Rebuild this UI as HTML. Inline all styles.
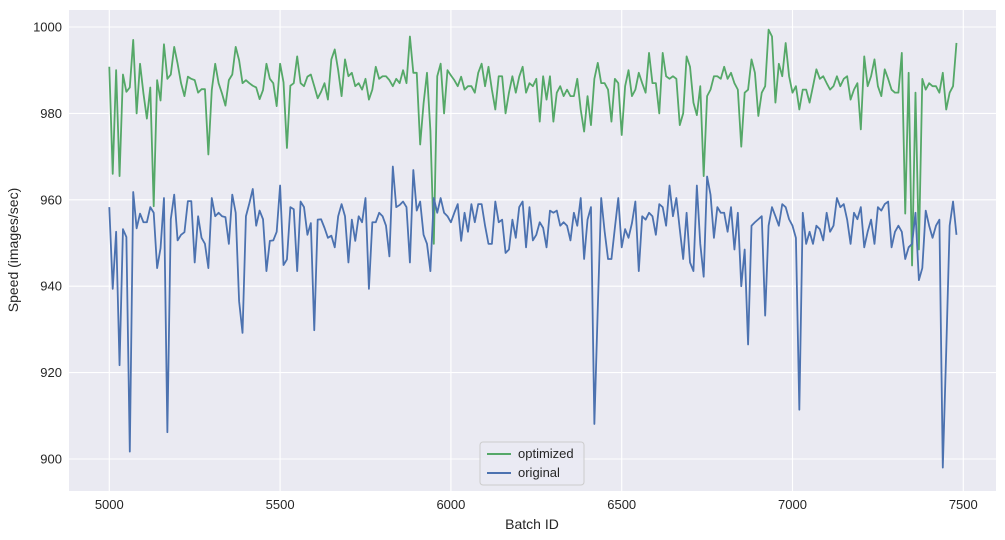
<!DOCTYPE html>
<html><head><meta charset="utf-8">
<style>
html,body{margin:0;padding:0;background:#fff;}
svg{display:block;font-family:"Liberation Sans","DejaVu Sans",sans-serif;}
</style></head>
<body>
<svg id="chart" width="1005" height="540" viewBox="0 0 1005 540" xmlns="http://www.w3.org/2000/svg">
  <rect x="69" y="10" width="927" height="481" fill="#EAEAF2"/>
  <g id="grid"></g>
  <g id="series"></g>
  <g id="xticks" font-size="13" fill="#262626" text-anchor="middle"></g>
  <g id="yticks" font-size="13" fill="#262626" text-anchor="end"></g>
  <text x="532" y="529" font-size="14" fill="#262626" text-anchor="middle">Batch ID</text>
  <text transform="translate(18,250) rotate(-90)" font-size="14" fill="#262626" text-anchor="middle">Speed (images/sec)</text>
  <g>
    <rect x="480" y="442" width="104" height="43" rx="3" fill="#EAEAF2" fill-opacity="0.8" stroke="#cccccc"/>
    <line x1="487" y1="454" x2="511" y2="454" stroke="#55A868" stroke-width="2"/>
    <text x="518" y="458" font-size="13" fill="#262626">optimized</text>
    <line x1="487" y1="473" x2="511" y2="473" stroke="#4C72B0" stroke-width="2"/>
    <text x="518" y="477" font-size="13" fill="#262626">original</text>
  </g>
</svg>
<script>
const batchStart = 5000;
const batchStep = 10;
const xTicks = [5000, 5500, 6000, 6500, 7000, 7500];
const yTicks = [900, 920, 940, 960, 980, 1000];
const optimized = [
990.8,966,990,965.5,989,985,986,997,980,991.5,984.6,978.8,986,958.5,987.7,983,996,988,989,995.4,991.5,987,984,988.5,988,987.7,984.8,985.6,985.6,970.5,985.4,991.5,987,984.6,981.8,987.7,989,995.4,992.3,987,987.7,987,986.4,986,983.3,985.4,991.5,988,987,981.7,991.5,987.2,972,986.4,987,993.2,987,986.3,988.5,989,986.3,983.5,
985,987,983.2,992.5,994.8,990,984,992.5,988.6,989.4,986.3,987,985.5,988,983.2,985.5,990.8,988,988.6,988.6,987.7,986.3,988,987,990,987,997.8,989.4,989.4,972.8,982.3,989.4,976,949.8,988.6,991.5,980,990,988.8,987.7,986.3,988.5,985.5,986.3,986.3,984.8,989.4,991.5,986.3,990.8,985.5,980.9,988.6,988.6,980,984.8,988.6,984.8,988.5,990.8,984.8,987,
986.3,988,978.1,988.6,983.2,988.6,978.1,984.8,986.3,984,985.5,984,984,988,980.9,975.8,984,977.3,988,991.7,987,987,985.5,978.1,988,987,975,986.3,990,984,985.5,989.4,987,984.8,994,987,987,980,994,988.6,988,988.6,988,977.3,980,993.2,990.8,982.5,979.6,986.3,965.5,984,985.5,988.6,988.6,988,990.8,988,989.4,987,985.5,972.3,
984.8,985.5,992.5,989.4,979.4,984.8,986.3,999.4,997.8,982.5,991.5,988.6,996.3,988.6,984.8,986.3,980.9,985.5,985.5,982.5,986.3,990.2,988,988.6,987,985.5,986.3,988.6,986.3,988,988.6,983.2,985.5,987,976.3,993.2,986.3,988.6,992.5,986.3,984,990.2,988,985.5,984.8,984.8,994,956.8,989.4,944.8,984.8,948.5,988,985.5,987,986.3,986.3,984.8,989.4,980.9,984.8,986.3,996.3
];
const original = [
958.3,939.4,952.6,921.7,953.2,951.4,901.7,961.8,953.4,956.8,954.8,954.8,958.3,957,944.2,948.8,960.4,906.2,955.5,961.2,950.6,951.9,952.5,959.7,959.7,945.5,956.2,951.2,949.8,944.2,960.4,956.2,957,956.2,956,949.8,961.2,957,936.5,929.2,956.2,959.2,962.5,954,957.5,955.5,943.5,950.5,950.6,952.6,963.3,944.9,946.2,958.3,957.8,943.5,959.6,958.3,951.9,954.6,929.8,955.4,
955.5,953.5,951.2,951.7,949,956.2,959,956.2,945.5,955.4,950.5,956.2,954.8,960.4,939.4,954.8,954.8,957,956.2,954,946.9,967.7,958.3,958.8,959.6,958.3,945.5,966.9,957.5,959.6,951.9,949.8,943.5,960.4,957,960.4,957,956.2,954.8,957,959,950.5,957,952.6,959,954.8,959,959,954,949.8,949.8,959.6,954.8,955.4,947.7,948.5,955.4,951.2,958.3,959.6,949,958.3,
950.6,951.9,954.8,953.5,949,957.5,957,957.5,954,954.8,954,950.6,957,954,960.4,946.3,955.4,958.3,908.1,935,960.4,952.7,946.3,946.3,953.5,960.4,949,953.2,951.2,954.6,959.6,943.5,956.2,955.4,957,956.2,951.9,959,958.3,954,963.3,956.2,960.4,953.2,946.3,957,945.5,943.5,963.3,949.8,942.2,965.4,961.2,951.2,958.3,957,957,952.6,958.3,948.5,957,940,
948.5,926.5,954,954.8,955.5,956.2,933.2,954,958.3,956.2,954,959,958.3,955.5,954,951.2,911.4,957,949.8,952.6,949.8,954,953.2,950.6,957,952.6,954,960.4,958.3,959,955.4,949.8,957,955.5,958.3,949,952.6,955.4,949.8,958.3,957.5,959,959.6,949,952.6,954,952.6,946.3,949,949.8,957,941.4,944.2,957.5,954,951.2,954,955.4,898,925,954,959.6,951.9
];

const NS = 'http://www.w3.org/2000/svg';
const X0 = 109.3, XS = 0.3416;
const Y0 = 27, YS = 4.32;
function xScale(v){ return X0 + (v - 5000) * XS; }
function yScale(v){ return Y0 + (1000 - v) * YS; }

const grid = document.getElementById('grid');
const xt = document.getElementById('xticks');
const yt = document.getElementById('yticks');
xTicks.forEach(function(t){
  const x = xScale(t);
  const l = document.createElementNS(NS,'line');
  l.setAttribute('x1',x); l.setAttribute('x2',x); l.setAttribute('y1',10); l.setAttribute('y2',491);
  l.setAttribute('stroke','#fff'); l.setAttribute('stroke-width','1.1');
  
  
  grid.appendChild(l);
  const tx = document.createElementNS(NS,'text');
  tx.setAttribute('x',x); tx.setAttribute('y',509); tx.textContent = t;
  
  
  xt.appendChild(tx);
});
yTicks.forEach(function(t){
  const y = yScale(t);
  const l = document.createElementNS(NS,'line');
  l.setAttribute('x1',69); l.setAttribute('x2',996); l.setAttribute('y1',y); l.setAttribute('y2',y);
  l.setAttribute('stroke','#fff'); l.setAttribute('stroke-width','1.1');
  
  
  grid.appendChild(l);
  const tx = document.createElementNS(NS,'text');
  tx.setAttribute('x',62); tx.setAttribute('y',y+4.5); tx.textContent = t;
  
  
  yt.appendChild(tx);
});

const series = document.getElementById('series');
function drawLine(vals, color, name){
  const pts = vals.map(function(v,i){ return xScale(batchStart + batchStep*i).toFixed(2) + ',' + yScale(v).toFixed(2); }).join(' ');
  const pl = document.createElementNS(NS,'polyline');
  pl.setAttribute('points', pts);
  pl.setAttribute('fill','none');
  pl.setAttribute('stroke', color);
  pl.setAttribute('stroke-width','1.8');
  pl.setAttribute('stroke-linejoin','round');
  
  
  series.appendChild(pl);
}
drawLine(optimized, '#55A868', 'optimized-line');
drawLine(original, '#4C72B0', 'original-line');
</script>
</body></html>
